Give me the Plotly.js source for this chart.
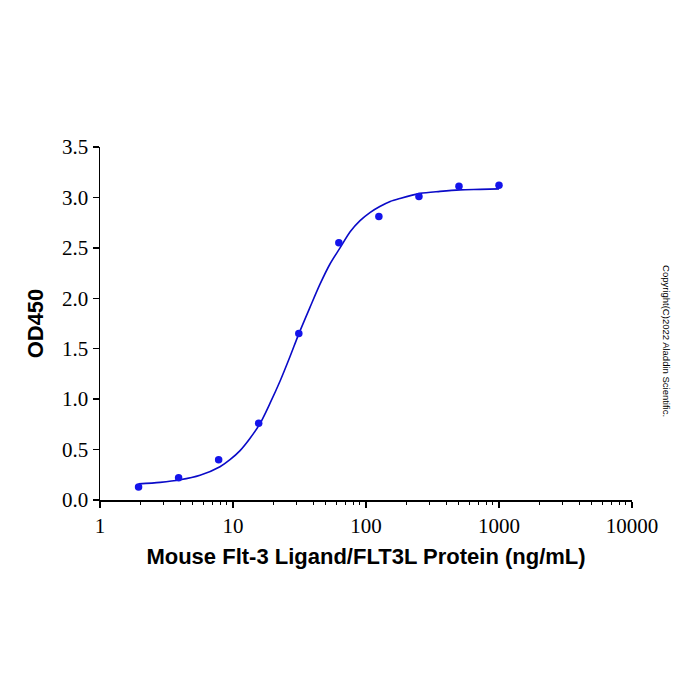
<!DOCTYPE html>
<html>
<head>
<meta charset="utf-8">
<script src="https://cdn.plot.ly/plotly-3.0.1.min.js"></script>
<style>html,body{margin:0;padding:0;background:#fff;}#chart{width:700px;height:700px;}</style>
</head>
<body>
<div id="chart"></div>
<script>
// Measured points
const concentrations = [1.95, 3.9, 7.8, 15.6, 31.25, 62.5, 125, 250, 500, 1000];
const od450 = [0.13, 0.22, 0.40, 0.76, 1.65, 2.55, 2.81, 3.01, 3.11, 3.12];
// Fitted curve
const curveX = [1.95, 2.83, 4.0, 5.65, 7.98, 9.49, 11.3, 13.4, 16.0, 19.0, 22.6, 26.8, 31.3, 37.9, 45.1, 53.6, 63.8, 76.0, 90.2, 107, 127, 152, 180, 255, 360, 509, 720, 1000];
const curveY = [0.16, 0.175, 0.20, 0.245, 0.33, 0.40, 0.49, 0.61, 0.76, 0.96, 1.18, 1.42, 1.65, 1.91, 2.14, 2.34, 2.50, 2.66, 2.77, 2.85, 2.91, 2.96, 2.99, 3.04, 3.06, 3.075, 3.08, 3.085];
const xTickVals = [1, 10, 100, 1000, 10000];
const xTickText = ["1", "10", "100", "1000", "10000"];
const yTickVals = [0, 0.5, 1.0, 1.5, 2.0, 2.5, 3.0, 3.5];
const yTickText = ["0.0", "0.5", "1.0", "1.5", "2.0", "2.5", "3.0", "3.5"];
const xTitle = "Mouse Flt-3 Ligand/FLT3L Protein (ng/mL)";
const yTitle = "OD450";
const copyright = "Copyright(C)2022 Aladdin Scientific.";

const serif = "'Liberation Serif', 'Times New Roman', serif";
const sans = "'Liberation Sans', Arial, sans-serif";

const traces = [
  {x: curveX, y: curveY, mode: 'lines', type: 'scatter', line: {color: 'rgb(10,10,200)', width: 1.6, shape: 'spline', smoothing: 0.8}, hoverinfo: 'skip', showlegend: false},
  {x: concentrations, y: od450, mode: 'markers', type: 'scatter', marker: {color: 'rgb(20,20,235)', size: 7.5}, showlegend: false}
];

const layout = {
  width: 700, height: 700,
  paper_bgcolor: '#fff', plot_bgcolor: '#fff',
  margin: {l: 100, r: 68, t: 147, b: 200},
  showlegend: false,
  xaxis: {
    type: 'log', range: [0, 4],
    tickvals: xTickVals, ticktext: xTickText,
    ticks: 'outside', ticklen: 6, tickwidth: 1.3, tickcolor: '#000',
    minor: {ticks: 'outside', ticklen: 3.5, tickwidth: 1, tickcolor: '#000', dtick: 'D1', showgrid: false},
    showline: true, linecolor: '#000', linewidth: 1.5,
    showgrid: false, zeroline: false,
    tickfont: {family: serif, size: 21, color: '#000'},
    title: {text: xTitle, font: {family: sans, size: 22, color: '#000', weight: 'bold'}, standoff: 12}
  },
  yaxis: {
    range: [0, 3.5],
    tickvals: yTickVals, ticktext: yTickText,
    ticks: 'outside', ticklen: 6, tickwidth: 1.3, tickcolor: '#000',
    showline: true, linecolor: '#000', linewidth: 1.5,
    showgrid: false, zeroline: false,
    tickfont: {family: serif, size: 21, color: '#000'},
    title: {text: yTitle, font: {family: sans, size: 22, color: '#000', weight: 'bold'}, standoff: 12}
  },
  annotations: [{
    text: copyright, xref: 'paper', yref: 'paper', x: 1.066, y: 0.45,
    xanchor: 'center', yanchor: 'middle',
    showarrow: false, textangle: 90,
    font: {family: sans, size: 9.5, color: '#000'}
  }]
};

Plotly.newPlot('chart', traces, layout, {displayModeBar: false, staticPlot: true});
</script>
</body>
</html>
